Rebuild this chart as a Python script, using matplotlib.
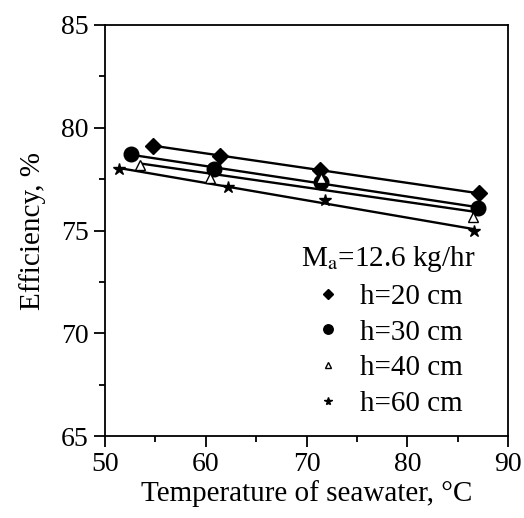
import numpy as np
import matplotlib
matplotlib.use("Agg")
import matplotlib.pyplot as plt
from matplotlib.ticker import MultipleLocator

plt.rcParams['font.family'] = ['Liberation Serif', 'DejaVu Serif']
plt.rcParams['mathtext.fontset'] = 'stix'

# data (temperature degC, efficiency %)
t_20 = [54.8, 61.4, 71.3, 87.1]
e_20 = [79.13, 78.64, 77.94, 76.81]
t_30 = [52.6, 60.8, 71.4, 87.0]
e_30 = [78.72, 77.98, 77.37, 76.11]
t_40 = [53.5, 60.4, 71.4, 86.5]
e_40 = [78.19, 77.54, 77.55, 75.67]
t_60 = [51.4, 62.2, 71.8, 86.6]
e_60 = [77.99, 77.10, 76.48, 74.98]
labels = ["h=20 cm", "h=30 cm", "h=40 cm", "h=60 cm"]

series = [(t_20, e_20, 'D', 'black', 8.5),
          (t_30, e_30, 'o', 'black', 10.5),
          (t_40, e_40, '^', 'white', 7),
          (t_60, e_60, '*', 'black', 9)]

fig, ax = plt.subplots(figsize=(5.24, 5.18), dpi=100)
fig.subplots_adjust(left=0.200, right=0.970, top=0.952, bottom=0.158)

for (t, e, m, fc, ms), lab in zip(series, labels):
    t = np.array(t)
    e = np.array(e)
    k, b = np.polyfit(t, e, 1)   # straight fit line
    xs = np.array([t.min(), t.max()])
    ax.plot(xs, k * xs + b, color='black', lw=1.7, zorder=2)
    ax.plot(t, e, linestyle='none', marker=m, markersize=ms,
            markerfacecolor=fc, markeredgecolor='black', markeredgewidth=1.0,
            label=lab, zorder=3)

ax.set_xlim(50, 90)
ax.set_ylim(65, 85)
ax.xaxis.set_major_locator(MultipleLocator(10))
ax.xaxis.set_minor_locator(MultipleLocator(5))
ax.yaxis.set_major_locator(MultipleLocator(5))
ax.yaxis.set_minor_locator(MultipleLocator(2.5))
ax.tick_params(which='major', direction='out', length=8, width=1.3, labelsize=20)
ax.tick_params(which='minor', direction='out', length=4, width=1.3)
for s in ax.spines.values():
    s.set_linewidth(1.3)

ax.set_xlabel("Temperature of seawater, \u00b0C", fontsize=21, labelpad=2)
ax.set_ylabel("Efficiency, %", fontsize=21, labelpad=11)

leg = ax.legend(loc='lower right', bbox_to_anchor=(0.965, 0.0),
                title="M$_\\mathrm{a}$=12.6 kg/hr", title_fontsize=21, fontsize=21,
                frameon=False, handlelength=1.0, handletextpad=0.6,
                labelspacing=0.32, borderpad=0.15, markerscale=0.65)

fig.savefig("out.png", dpi=100)
